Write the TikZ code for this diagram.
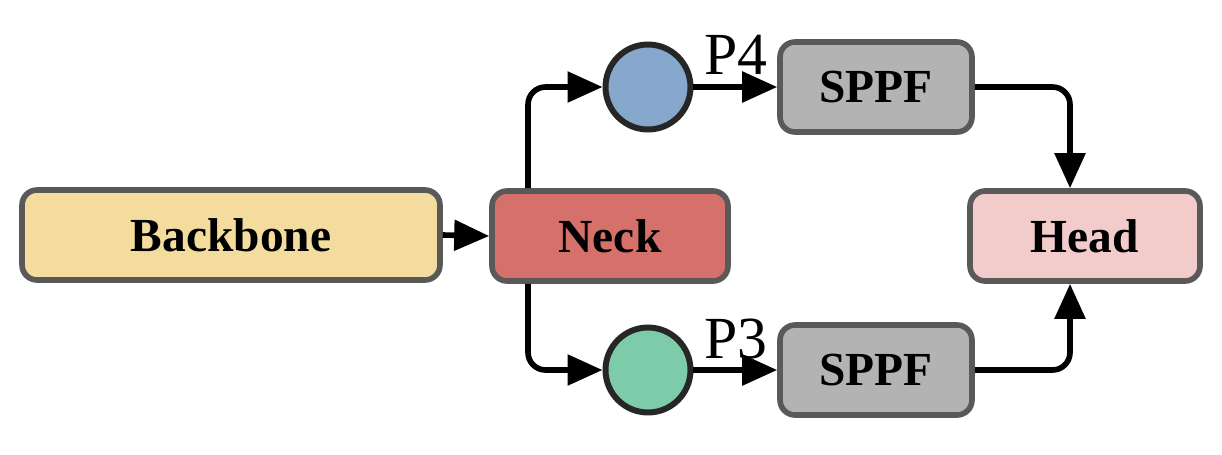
\documentclass[tikz,border=0pt]{standalone}
\usepackage{fontspec}
\setmainfont{Liberation Serif}
\usetikzlibrary{arrows.meta}
\begin{document}
\begin{tikzpicture}[x=0.02cm,y=-0.02cm,
  box/.style={draw=black!65,line width=3.2pt,rounded corners=0.3cm,minimum height=1.8cm,font=\fontsize{27}{30}\selectfont\bfseries,inner sep=0pt},
  circ/.style={circle,draw=black!85,line width=3.4pt,minimum size=1.7cm,inner sep=0pt},
  arr/.style={line width=3.2pt,rounded corners=0.35cm,-{Triangle[length=0.7cm,width=0.6cm]}},
  lab/.style={font=\fontsize{34}{38}\selectfont}]
\useasboundingbox (0,0) rectangle (1222,454);
\definecolor{bb}{HTML}{F3DC9E}
\definecolor{nk}{HTML}{D5706B}
\definecolor{hd}{HTML}{F2CBCB}
\definecolor{sp}{HTML}{B3B3B3}
\definecolor{c1}{HTML}{86A8CC}
\definecolor{c2}{HTML}{7ECBA9}
\node[box,fill=bb,minimum width=8.36cm] (bb) at (231,235) {Backbone};
\node[box,fill=nk,minimum width=4.72cm] (nk) at (610,236) {Neck};
\node[box,fill=hd,minimum width=4.6cm] (hd) at (1085,236) {Head};
\node[box,fill=sp,minimum width=3.84cm] (s1) at (876,87) {SPPF};
\node[box,fill=sp,minimum width=3.84cm] (s2) at (876,370) {SPPF};
\node[circ,fill=c1] (c1) at (648,87) {};
\node[circ,fill=c2] (c2) at (648,370) {};
\node[lab] (p4) at (736,55) {P4};
\node[lab] (p3) at (736,339) {P3};
\draw[arr] (bb.east) -- (nk.west);
\draw[arr] (nk.north -| 528,0) -- (528,87) -- (c1.west);
\draw[arr] (nk.south -| 528,0) -- (528,370) -- (c2.west);
\draw[arr] (c1.east) -- (s1.west);
\draw[arr] (c2.east) -- (s2.west);
\draw[arr] (s1.east) -- (1070,87) -- (hd.north -| 1070,0);
\draw[arr] (s2.east) -- (1070,370) -- (hd.south -| 1070,0);
\end{tikzpicture}
\end{document}
